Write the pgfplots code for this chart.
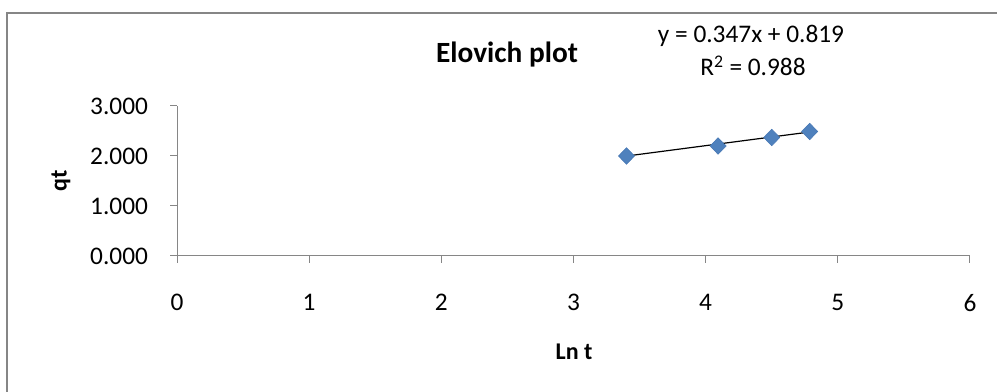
\documentclass[border=0pt]{standalone}
\usepackage{pgfplots}
\pgfplotsset{compat=1.18}
\usepackage{fontspec}
\setmainfont{Carlito}
\definecolor{axgray}{HTML}{868686}
\definecolor{mblue}{HTML}{4F81BD}
\definecolor{mblueedge}{HTML}{4677B4}
\begin{document}
\begin{tikzpicture}[x=0.75pt,y=0.75pt]
\useasboundingbox (0,0) rectangle (997,392);
\draw[axgray, line width=2pt] (7,0) -- (7,379) -- (997,379);
\coordinate (O) at (177,136);
\begin{axis}[
  at={(O)}, anchor=south west,
  scale only axis,
  width=594.75pt, height=112.5pt,
  xmin=0, xmax=6, ymin=0, ymax=3,
  xtick={0,1,2,3,4,5,6},
  ytick={0,1,2,3},
  axis lines*=left,
  axis line style={axgray, line width=0.75pt},
  tick style={axgray, line width=0.75pt},
  tick align=outside,
  major tick length=5.25pt,
  /pgf/number format/assume math mode=true,
  yticklabel={\pgfmathprintnumber[fixed,fixed zerofill,precision=3]{\tick}},
  ticklabel style={font=\fontsize{19}{22}\selectfont, text=black},
  xticklabel style={yshift=-20pt},
  yticklabel style={xshift=-13pt},
  clip=false,
]
\addplot[black, line width=0.9pt, forget plot] coordinates {(3.401,1.999) (4.787,2.480)};
\addplot[only marks, mark=diamond*, mark size=6.2pt,
  mark options={xscale=1.3, fill=mblue, draw=mblueedge, line width=0.4pt}]
  coordinates {(3.401,2.00) (4.094,2.20) (4.500,2.37) (4.787,2.49)};
\end{axis}
\node[font=\fontsize{22}{26}\selectfont\bfseries] at (507,337) {Elovich plot};
\node[font=\fontsize{19}{22}\selectfont] at (751,356) {y = 0.347x + 0.819};
\node[font=\fontsize{19}{22}\selectfont] at (753,326) {R\textsuperscript{2} = 0.988};
\node[font=\fontsize{18}{21}\selectfont\bfseries] at (574,40) {Ln t};
\node[font=\fontsize{18}{21}\selectfont\bfseries, rotate=90] at (61,211) {qt};
\end{tikzpicture}
\end{document}
